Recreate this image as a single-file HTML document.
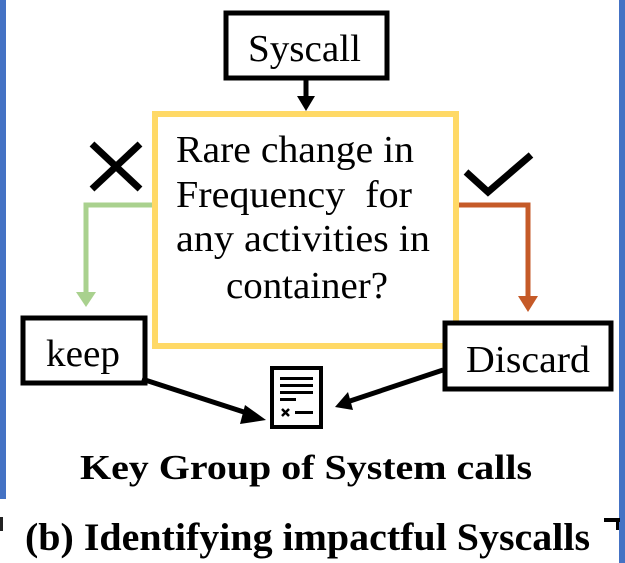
<!DOCTYPE html>
<html><head><style>
html,body{margin:0;padding:0;background:#fff;}
svg{display:block;}
</style></head><body>
<svg width="625" height="563" viewBox="0 0 625 563" xmlns="http://www.w3.org/2000/svg" font-family="'Liberation Serif','Times New Roman','DejaVu Serif',serif">
<rect x="0" y="0" width="625" height="563" fill="#fff"/>
<rect x="0" y="0" width="6" height="499" fill="#4472c4"/>
<rect x="619" y="0" width="6" height="563" fill="#4472c4"/>
<rect x="0" y="517" width="3" height="14" fill="#222"/>
<rect x="604" y="518" width="16" height="4" fill="#000"/>
<rect x="616" y="518" width="3" height="12" fill="#000"/>

<rect x="226" y="13" width="161" height="65" fill="#fff" stroke="#000" stroke-width="5"/>
<text x="248" y="61" font-size="38" font-family="'Liberation Serif','DejaVu Serif',serif" textLength="113" lengthAdjust="spacingAndGlyphs">Syscall</text>
<line x1="306" y1="80" x2="306" y2="98" stroke="#000" stroke-width="5"/>
<polygon points="297,96 315,96 306,111" fill="#000"/>

<rect x="155" y="114" width="301" height="232" fill="#fff" stroke="#ffd966" stroke-width="6"/>
<g font-size="38" font-family="'Liberation Serif','DejaVu Serif',serif">
<text x="176" y="162" textLength="238" lengthAdjust="spacingAndGlyphs">Rare change in</text>
<text x="176" y="207" textLength="236" lengthAdjust="spacingAndGlyphs" xml:space="preserve">Frequency  for</text>
<text x="176" y="251" textLength="254" lengthAdjust="spacingAndGlyphs">any activities in</text>
<text x="226" y="298" textLength="162" lengthAdjust="spacingAndGlyphs">container?</text>
</g>

<path d="M92,144 L140,189 M140,144 L92,189" stroke="#000" stroke-width="7"/>
<path d="M466,172 L488,192 L531,155" stroke="#000" stroke-width="7" fill="none"/>

<polyline points="152,205 86,205 86,294" fill="none" stroke="#a9d18e" stroke-width="5"/>
<polygon points="76,292 96,292 86,307" fill="#a9d18e"/>
<polyline points="459,205 528,205 528,298" fill="none" stroke="#c55a28" stroke-width="5"/>
<polygon points="518,296 538,296 528,312" fill="#c55a28"/>

<rect x="23" y="318" width="122" height="65" fill="#fff" stroke="#000" stroke-width="5"/>
<text x="46" y="366" font-size="38" font-family="'Liberation Serif','DejaVu Serif',serif" textLength="74" lengthAdjust="spacingAndGlyphs">keep</text>
<rect x="445" y="323" width="166" height="66" fill="#fff" stroke="#000" stroke-width="5"/>
<text x="466" y="372" font-size="38" font-family="'Liberation Serif','DejaVu Serif',serif" textLength="124" lengthAdjust="spacingAndGlyphs">Discard</text>

<rect x="272" y="368" width="49" height="59" fill="#fff" stroke="#000" stroke-width="4"/>
<rect x="280" y="377" width="33" height="3" fill="#000"/>
<rect x="280" y="384" width="33" height="3" fill="#000"/>
<rect x="280" y="391" width="33" height="3" fill="#000"/>
<rect x="280" y="398" width="16" height="3" fill="#000"/>
<path d="M282,409 L289,416 M289,409 L282,416" stroke="#000" stroke-width="2.5"/>
<rect x="295" y="411" width="18" height="3" fill="#000"/>

<line x1="142" y1="379" x2="250" y2="414" stroke="#000" stroke-width="5"/>
<polygon points="266,420 245,405 240,424" fill="#000"/>
<line x1="443" y1="370" x2="350" y2="401" stroke="#000" stroke-width="5"/>
<polygon points="335,407 348,392 353,410" fill="#000"/>

<text x="80" y="479" font-size="35" font-weight="bold" textLength="452" lengthAdjust="spacingAndGlyphs">Key Group of System calls</text>
<text x="25" y="550" font-size="39" font-weight="bold" textLength="565" lengthAdjust="spacingAndGlyphs">(b) Identifying impactful Syscalls</text>
</svg>
</body></html>
